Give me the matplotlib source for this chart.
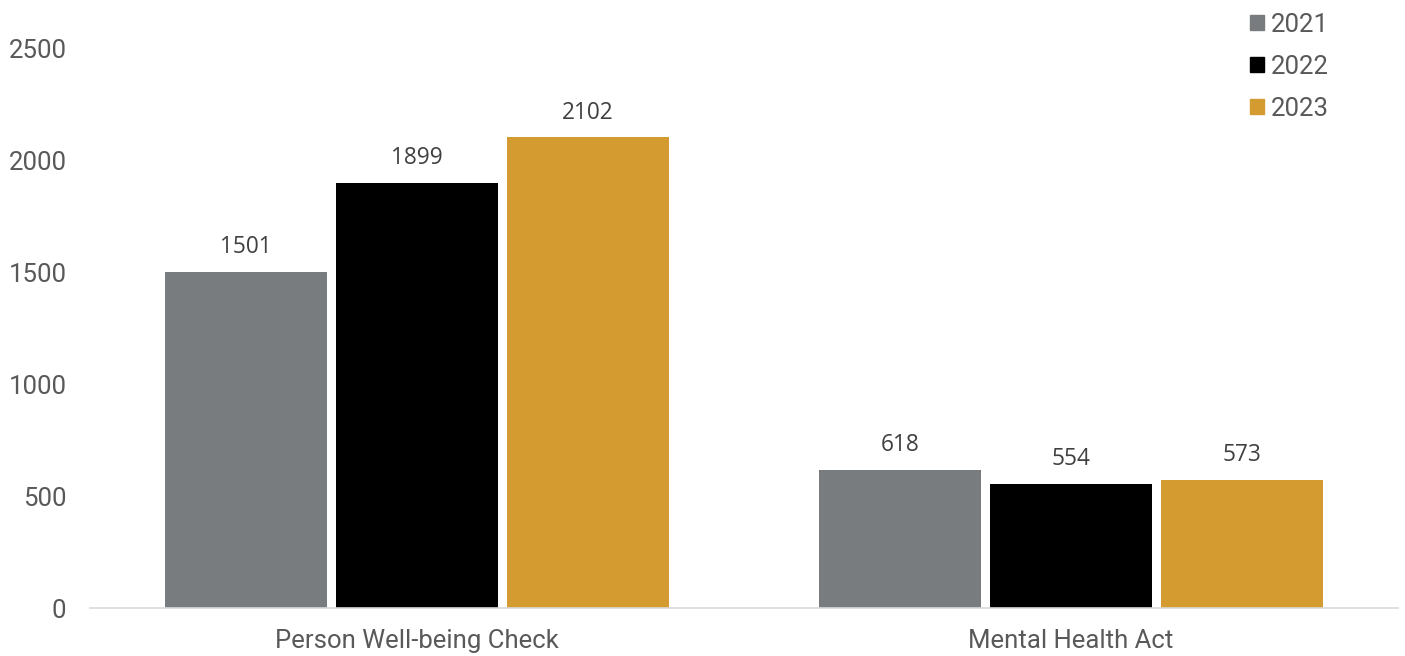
import numpy as np
import matplotlib.pyplot as plt
from matplotlib.patches import Patch

categories = ["Person Well-being Check", "Mental Health Act"]
years = ["2021", "2022", "2023"]
values_2021 = [1501, 618]
values_2022 = [1899, 554]
values_2023 = [2102, 573]
yticks = [0, 500, 1000, 1500, 2000, 2500]

colors = ["#797c7f", "#000000", "#d39b30"]
txt = "#595959"

fig = plt.figure(figsize=(14.05, 6.56), dpi=100)
ax = fig.add_axes([90/1405, 1-608/656, 1308/1405, 560/656])

x = np.arange(len(categories))
w = 0.247
step = 0.2615
series = [values_2021, values_2022, values_2023]
for i, vals in enumerate(series):
    pos = x + (i - 1) * step
    bars = ax.bar(pos, vals, width=w, color=colors[i], label=years[i])
    for b, v in zip(bars, vals):
        ax.annotate(str(v), (b.get_x() + b.get_width()/2, v), xytext=(0, 9),
                    textcoords="offset points", ha="center", va="bottom",
                    fontsize=16.3, color="#404040", family="Open Sans")

ax.set_xlim(-0.5, 1.5)
ax.set_ylim(0, 2500)
ax.set_xticks(x)
ax.set_xticklabels(categories, fontsize=18.5, color=txt, family="Roboto")
ax.set_yticks(yticks)
ax.set_yticklabels([str(t) for t in yticks], fontsize=18.5, color=txt, family="Roboto")
ax.tick_params(axis="both", length=0)
ax.tick_params(axis="x", pad=15)
ax.tick_params(axis="y", pad=17)
for s in ["top", "right", "left"]:
    ax.spines[s].set_visible(False)
ax.spines["bottom"].set_color("#d9d9d9")
ax.spines["bottom"].set_linewidth(1.2)

handles = [Patch(color=c) for c in colors]
leg = fig.legend(handles, years, loc="upper left", bbox_to_anchor=(1227/1405, 1.016),
                 frameon=False, handlelength=0.55, handleheight=0.55, handletextpad=0.25,
                 labelspacing=0.7, prop={"family": "Roboto", "size": 18.5})
for t in leg.get_texts():
    t.set_color(txt)

fig.savefig("out.png", dpi=100)
